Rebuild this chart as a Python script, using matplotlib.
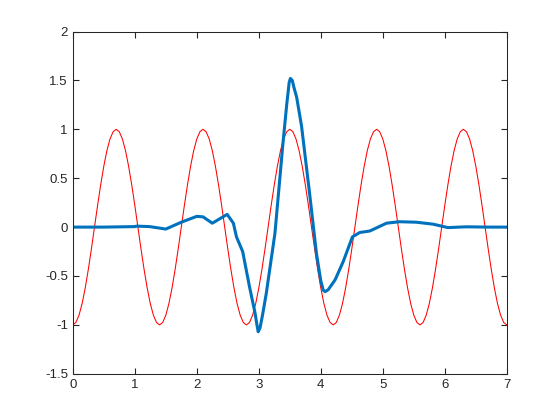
import numpy as np
import matplotlib.pyplot as plt

# red reference wave, sampled every 0.05 from t=0 to t=7
t_red = np.arange(0, 141) * 0.05
period = [-1, -0.975, -0.901, -0.782, -0.623, -0.434, -0.223, 0, 0.223, 0.434, 0.623, 0.782, 0.901, 0.975,
          1, 0.975, 0.901, 0.782, 0.623, 0.434, 0.223, 0, -0.223, -0.434, -0.623, -0.782, -0.901, -0.975]
y_red = (period + period + period + period + period + [-1])

# blue signal
t_blue = [0, 0.5, 1.0, 1.03, 1.24, 1.5, 1.75, 2.0, 2.1, 2.25, 2.49, 2.59, 2.64, 2.74, 2.85, 2.94, 2.97, 2.99,
          3.02, 3.06, 3.12, 3.26, 3.39, 3.45, 3.49, 3.51, 3.54, 3.57, 3.61, 3.69, 3.82, 3.93, 4.0, 4.04, 4.07,
          4.12, 4.23, 4.36, 4.51, 4.63, 4.79, 5.06, 5.27, 5.54, 5.81, 6.05, 6.35, 6.7, 7.0]
y_blue = [0, 0, 0.005, 0.01, 0.005, -0.02, 0.05, 0.11, 0.105, 0.04, 0.13, 0.04, -0.1, -0.25, -0.61, -0.88, -1.0,
          -1.07, -1.03, -0.9, -0.68, -0.065, 0.86, 1.25, 1.48, 1.52, 1.5, 1.42, 1.33, 1.03, 0.34, -0.27, -0.55,
          -0.645, -0.66, -0.64, -0.54, -0.355, -0.1, -0.055, -0.04, 0.04, 0.055, 0.05, 0.03, -0.005, 0.003, 0, 0]

plt.rcParams['font.family'] = ['Liberation Sans', 'DejaVu Sans']
fig = plt.figure(figsize=(5.6, 4.2), dpi=100)
ax = fig.add_axes([0.13, 0.11, 0.775, 0.815])
ax.plot(t_red, y_red, color='#ff0000', linewidth=0.75)
ax.plot(t_blue, y_blue, color='#0072bd', linewidth=2.2)

ax.set_xlim(0, 7)
ax.set_ylim(-1.5, 2)
ax.set_xticks(range(0, 8))
ax.set_yticks(np.arange(-1.5, 2.01, 0.5))
ax.set_yticklabels(['-1.5', '-1', '-0.5', '0', '0.5', '1', '1.5', '2'])
ax.tick_params(direction='in', top=True, right=True, labelsize=9.5, colors='#262626', length=4)
for s in ax.spines.values():
    s.set_color('#262626')
    s.set_linewidth(0.75)

fig.savefig('out.png', dpi=100)
